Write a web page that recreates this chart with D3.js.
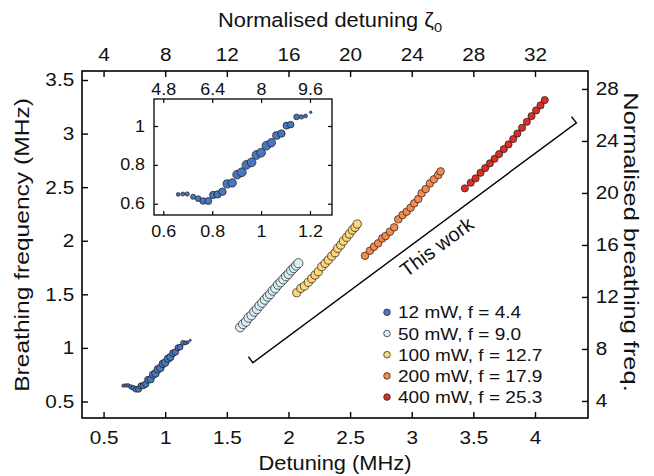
<!DOCTYPE html>
<html>
<head>
<meta charset="utf-8">
<script src="https://cdn.jsdelivr.net/npm/d3@7/dist/d3.min.js"></script>
<style>
  body { margin: 0; background: #fff; }
  text { font-family: "Liberation Sans", Arial, Helvetica, sans-serif; fill: #111; }
</style>
</head>
<body>
<div class="chart"></div>
<script>
// ---- data ----
var seriesLabels = ["12 mW, f = 4.4", "50 mW, f = 9.0", "100 mW, f = 12.7", "200 mW, f = 17.9", "400 mW, f = 25.3"];

// 12 mW (also shown enlarged in the inset); weight = relative marker size
var blueDetuning = [0.661, 0.680, 0.698, 0.722, 0.743, 0.763, 0.784, 0.804, 0.822, 0.842, 0.861, 0.882, 0.902, 0.921,
  0.940, 0.961, 0.981, 1.000, 1.022, 1.042, 1.063, 1.083, 1.104, 1.121, 1.145, 1.165, 1.182, 1.203];
var blueFreq = [0.648, 0.650, 0.650, 0.636, 0.626, 0.614, 0.614, 0.645, 0.648, 0.662, 0.702, 0.707, 0.750, 0.762,
  0.800, 0.813, 0.851, 0.863, 0.899, 0.914, 0.951, 0.961, 1.002, 1.007, 1.047, 1.047, 1.052, 1.071];
var blueWeight = [0.43, 0.45, 0.48, 0.58, 0.65, 0.75, 0.8, 0.83, 0.83, 0.85, 0.93, 0.95, 1, 1,
  1, 1, 1, 1, 1, 0.95, 0.9, 0.85, 0.8, 0.75, 0.65, 0.5, 0.42, 0.28];

var lightBlueDetuning = [1.608, 1.632, 1.655, 1.676, 1.700, 1.722, 1.743, 1.765, 1.787, 1.808, 1.830, 1.851,
  1.872, 1.893, 1.915, 1.936, 1.958, 1.980, 2.000, 2.022, 2.043, 2.062, 2.080];
var lightBlueFreq = [1.192, 1.222, 1.245, 1.282, 1.304, 1.338, 1.362, 1.395, 1.421, 1.450, 1.478, 1.502,
  1.534, 1.556, 1.590, 1.612, 1.640, 1.668, 1.690, 1.722, 1.745, 1.768, 1.790];

var yellowDetuning = [2.067, 2.100, 2.129, 2.161, 2.189, 2.216, 2.242, 2.270, 2.297, 2.323, 2.351, 2.378,
  2.399, 2.424, 2.445, 2.472, 2.494, 2.518, 2.540, 2.558];
var yellowFreq = [1.515, 1.556, 1.577, 1.612, 1.646, 1.680, 1.711, 1.758, 1.789, 1.820, 1.857, 1.888,
  1.929, 1.960, 1.997, 2.032, 2.063, 2.100, 2.125, 2.156];

var orangeDetuning = [2.621, 2.661, 2.694, 2.728, 2.761, 2.788, 2.823, 2.858, 2.891, 2.926, 2.959, 2.991,
  3.020, 3.053, 3.080, 3.113, 3.147, 3.180, 3.215, 3.234];
var orangeFreq = [1.860, 1.907, 1.944, 1.976, 2.022, 2.044, 2.084, 2.125, 2.200, 2.240, 2.271, 2.308,
  2.349, 2.389, 2.442, 2.482, 2.535, 2.573, 2.613, 2.647];

var redDetuning = [3.431, 3.479, 3.518, 3.558, 3.596, 3.634, 3.672, 3.709, 3.747, 3.785, 3.823, 3.857,
  3.895, 3.934, 3.972, 4.009, 4.045, 4.079];
var redFreq = [2.489, 2.541, 2.582, 2.634, 2.678, 2.722, 2.765, 2.809, 2.855, 2.899, 2.949, 3.000,
  3.054, 3.110, 3.163, 3.216, 3.263, 3.313];

// "This work" bracket, in data units
var bracketDetuning = [1.675, 1.711, 4.336, 4.296];
var bracketFreq = [0.918, 0.862, 3.101, 3.157];

var xTicks = [0.5, 1, 1.5, 2, 2.5, 3, 3.5, 4];
var zetaTicks = [4, 8, 12, 16, 20, 24, 28, 32];
var yTicks = [0.5, 1, 1.5, 2, 2.5, 3, 3.5];
var normTicks = [4, 8, 12, 16, 20, 24, 28];
var insetXTicks = [0.6, 0.8, 1, 1.2];
var insetZetaTicks = [4.8, 6.4, 8, 9.6];
var insetYTicks = [0.6, 0.8, 1];

// ---- layout ----
var svgWidth = 654, svgHeight = 476;
var box = { left: 82, right: 588, top: 71, bottom: 418 };
var inset = { left: 154, right: 332, top: 99, bottom: 215 };
var SX = 1.12; // text in the figure is slightly wide
var fmt = d3.format("");
var colors = ["#4a76bb", "#dbeff6", "#fdd57c", "#f58a4f", "#d8302a"];
var radii = [3.8, 4.6, 4.1, 3.8, 3.6];

var svg = d3.select(".chart").append("svg")
  .attr("width", svgWidth).attr("height", svgHeight);

var x = d3.scaleLinear().domain([0.325, 4.43]).range([box.left, box.right]);
var y = d3.scaleLinear().domain([0.346, 3.584]).range([box.bottom, box.top]);
var zeta = d3.scaleLinear().domain([0.325 * 8, 4.43 * 8]).range([box.left, box.right]);
var yNorm = d3.scaleLinear().domain([2.69, 29.38]).range([box.bottom, box.top]);

function styleAxis(g, fontSize, width) {
  g.select(".domain").remove();
  g.selectAll("line").attr("stroke", "#000").attr("stroke-width", width);
  g.selectAll("text").attr("font-size", fontSize).attr("fill", "#111")
    .attr("font-family", "Liberation Sans, Arial, sans-serif")
    .attr("transform", "scale(" + SX + ",1)");
}

// frame
svg.append("rect")
  .attr("x", box.left).attr("y", box.top)
  .attr("width", box.right - box.left).attr("height", box.bottom - box.top)
  .attr("fill", "none").attr("stroke", "#000").attr("stroke-width", 1.6);

svg.append("g").attr("transform", "translate(0," + box.bottom + ")")
  .call(d3.axisBottom(x).tickValues(xTicks).tickFormat(fmt).tickSize(-6).tickPadding(13))
  .call(styleAxis, 18.5, 1.4);
svg.append("g").attr("transform", "translate(0," + box.top + ")")
  .call(d3.axisTop(zeta).tickValues(zetaTicks).tickFormat(fmt).tickSize(-6).tickPadding(10))
  .call(styleAxis, 18.5, 1.4);
svg.append("g").attr("transform", "translate(" + box.left + ",0)")
  .call(d3.axisLeft(y).tickValues(yTicks).tickFormat(fmt).tickSize(-6).tickPadding(7))
  .call(styleAxis, 18.5, 1.4);
svg.append("g").attr("transform", "translate(" + box.right + ",0)")
  .call(d3.axisRight(yNorm).tickValues(normTicks).tickFormat(fmt).tickSize(-6).tickPadding(7))
  .call(styleAxis, 18.5, 1.4);

// axis titles
function title(txt, tx, ty, rot, size, sx) {
  return svg.append("text")
    .attr("transform", "translate(" + tx + "," + ty + ") rotate(" + rot + ") scale(" + sx + ",1)")
    .attr("text-anchor", "middle").attr("font-size", size).text(txt);
}
title("Detuning (MHz)", 335, 470, 0, 19.5, SX);
title("Breathing frequency (MHz)", 29, 245, -90, 20.5, 1.2);
title("Normalised breathing freq.", 624, 242, 90, 20.5, 1.24);
var topTitle = title("Normalised detuning ", 330, 27, 0, 19.5, SX);
topTitle.append("tspan").text("\u03b6");
topTitle.append("tspan").attr("font-size", 13).attr("dy", 5).text("0");

// "This work" bracket
var line = d3.line().x(function(d) { return x(d[0]); }).y(function(d) { return y(d[1]); });
svg.append("path")
  .datum(d3.zip(bracketDetuning, bracketFreq))
  .attr("d", line).attr("fill", "none").attr("stroke", "#000").attr("stroke-width", 1.4);
svg.append("text")
  .attr("transform", "translate(" + x(3.202) + "," + y(1.944) + ") rotate(-36.5)")
  .attr("text-anchor", "middle").attr("dy", "0.35em").attr("font-size", 20).text("This work");

// data series
var allSeries = [
  { det: blueDetuning, freq: blueFreq, w: blueWeight },
  { det: lightBlueDetuning, freq: lightBlueFreq },
  { det: yellowDetuning, freq: yellowFreq },
  { det: orangeDetuning, freq: orangeFreq },
  { det: redDetuning, freq: redFreq }
];

allSeries.forEach(function(s, i) {
  var pts = s.det.map(function(d, j) { return { x: d, y: s.freq[j], w: s.w ? s.w[j] : 1 }; });
  svg.append("g").selectAll("circle").data(pts).enter().append("circle")
    .attr("cx", function(d) { return x(d.x); })
    .attr("cy", function(d) { return y(d.y); })
    .attr("r", function(d) { return radii[i] * d.w; })
    .attr("fill", colors[i]).attr("stroke", "#1a1a1a").attr("stroke-width", 0.7);
});

// legend
var legend = svg.append("g");
seriesLabels.forEach(function(lab, i) {
  var cy = 312.3 + i * 21.2;
  legend.append("circle").attr("cx", 387).attr("cy", cy).attr("r", 3.3)
    .attr("fill", colors[i]).attr("stroke", "#1a1a1a").attr("stroke-width", 0.7);
  legend.append("text")
    .attr("transform", "translate(398," + cy + ") scale(" + SX + ",1)")
    .attr("dy", "0.36em").attr("font-size", 17).text(lab);
});

// ---- inset ----
var ix = d3.scaleLinear().domain([0.562, 1.29]).range([inset.left, inset.right]);
var iy = d3.scaleLinear().domain([0.542, 1.139]).range([inset.bottom, inset.top]);
var iz = d3.scaleLinear().domain([0.562 * 8, 1.29 * 8]).range([inset.left, inset.right]);

svg.append("rect")
  .attr("x", inset.left).attr("y", inset.top)
  .attr("width", inset.right - inset.left).attr("height", inset.bottom - inset.top)
  .attr("fill", "#fff").attr("stroke", "#000").attr("stroke-width", 1.3);

svg.append("g").attr("transform", "translate(0," + inset.bottom + ")")
  .call(d3.axisBottom(ix).tickValues(insetXTicks).tickFormat(fmt).tickSize(-4).tickPadding(11))
  .call(styleAxis, 16, 1.2);
svg.append("g").attr("transform", "translate(0," + inset.top + ")")
  .call(d3.axisTop(iz).tickValues(insetZetaTicks).tickFormat(fmt).tickSize(-4).tickPadding(4))
  .call(styleAxis, 16, 1.2);
svg.append("g").attr("transform", "translate(" + inset.left + ",0)")
  .call(d3.axisLeft(iy).tickValues(insetYTicks).tickFormat(fmt).tickSize(-4).tickPadding(8))
  .call(styleAxis, 16, 1.2);
svg.append("g").attr("transform", "translate(" + inset.right + ",0)")
  .call(d3.axisRight(iy).tickValues(insetYTicks).tickFormat(function() { return ""; }).tickSize(-4))
  .call(styleAxis, 16, 1.2);

var insetPts = blueDetuning.map(function(d, j) { return { x: d, y: blueFreq[j], w: blueWeight[j] }; });
svg.append("g").selectAll("circle").data(insetPts).enter().append("circle")
  .attr("cx", function(d) { return ix(d.x); })
  .attr("cy", function(d) { return iy(d.y); })
  .attr("r", function(d) { return 4.4 * d.w; })
  .attr("fill", colors[0]).attr("stroke", "#1a1a1a").attr("stroke-width", 0.7);
</script>
</body>
</html>
